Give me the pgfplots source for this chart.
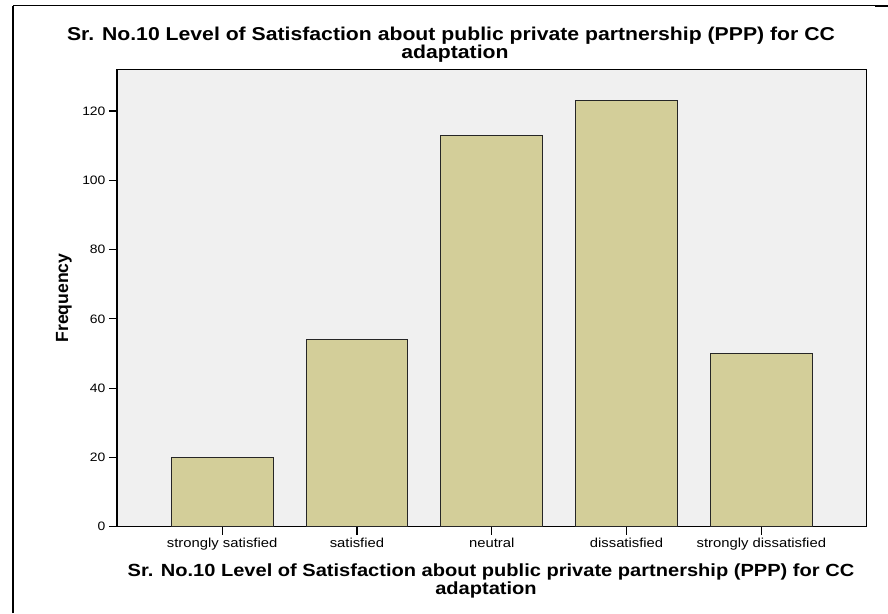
\documentclass[border=0pt]{standalone}
\usepackage{fontspec}
\setmainfont{Liberation Sans}
\newfontfamily\sfont[FakeStretch=1.14]{Liberation Sans}
\usepackage{pgfplots}
\pgfplotsset{compat=1.18}
\definecolor{barfill}{RGB}{211,206,153}
\definecolor{bg}{RGB}{240,240,240}
\begin{document}
\begin{tikzpicture}
\path[use as bounding box] (0,0) rectangle (888pt,613pt);
\draw[line width=2pt] (13pt,0) -- (13pt,607pt);
\draw[line width=1pt] (13pt,607pt) -- (875pt,607pt);
\draw[line width=2pt] (875pt,607pt) -- (888pt,607pt);
\begin{axis}[at={(117pt,86.3pt)}, anchor=south west, scale only axis,
 width=749.5pt, height=457.2pt,
 xmin=-0.78, xmax=4.78, ymin=0, ymax=132,
 axis background/.style={fill=bg},
 axis line style={line width=1.2pt},
 xtick={0,...,4},
 xticklabels={strongly satisfied, satisfied, neutral, dissatisfied, strongly dissatisfied},
 ytick={0,20,...,120},
 tick pos=left, tick align=outside, major tick length=8pt,
 tick style={line width=1.2pt, black},
 xticklabel style={font=\sfont\fontsize{13}{15}\selectfont},
 yticklabel style={font=\sfont\fontsize{12.2}{14}\selectfont},
 /pgf/number format/assume math mode=true,
 ybar, bar width=0.755,
]
\addplot[fill=barfill, draw=black!85, line width=1pt] coordinates {(0,20) (1,54) (2,113) (3,123) (4,50)};
\end{axis}
\node[anchor=base, font=\sfont\bfseries\fontsize{18.6}{20}\selectfont] at (451pt,572.3pt) {Sr. No.10 Level of Satisfaction about public private partnership (PPP) for CC};
\node[anchor=base, font=\sfont\bfseries\fontsize{18.6}{20}\selectfont] at (455pt,554pt) {adaptation};
\node[anchor=base, font=\sfont\bfseries\fontsize{17.6}{19}\selectfont] at (491pt,36.3pt) {Sr. No.10 Level of Satisfaction about public private partnership (PPP) for CC};
\node[anchor=base, font=\sfont\bfseries\fontsize{17.6}{19}\selectfont] at (486pt,19pt) {adaptation};
\node[anchor=base, rotate=90, font=\bfseries\fontsize{17.6}{19}\selectfont] at (68pt,315pt) {Frequency};
\end{tikzpicture}
\end{document}
